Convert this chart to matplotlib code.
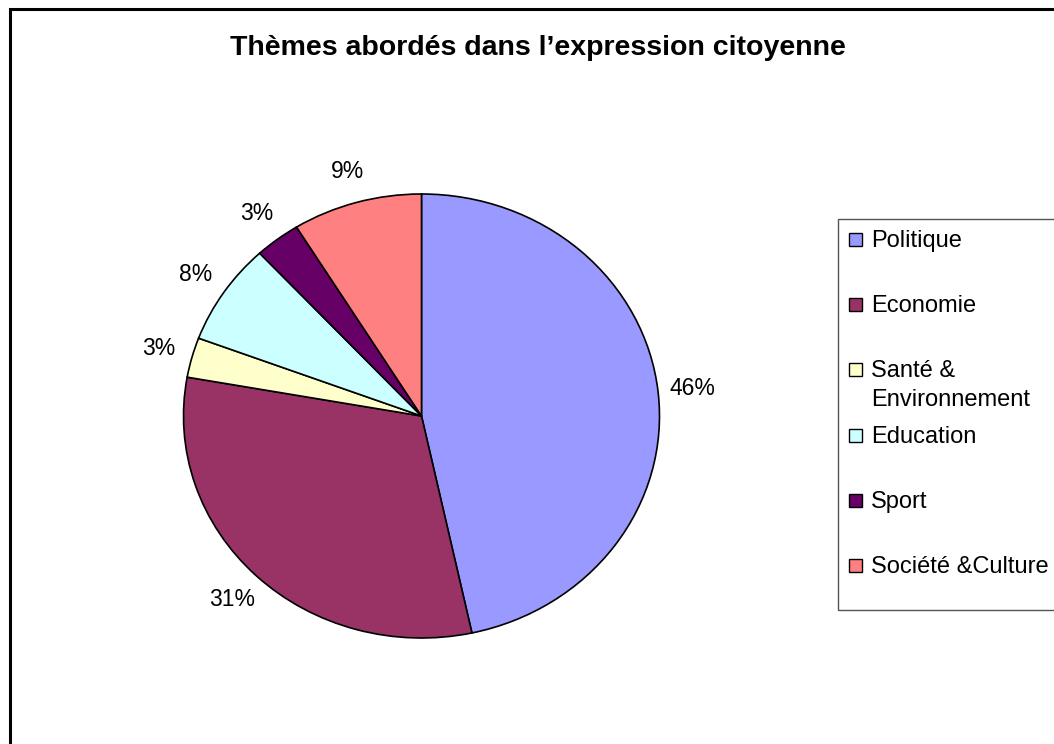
import matplotlib
matplotlib.use("Agg")
import matplotlib.pyplot as plt
from matplotlib.patches import Rectangle

# ---- data ----
categories = ["Politique", "Economie", "Santé &\nEnvironnement", "Education", "Sport", "Société &Culture"]
shares = [46.6, 31.2, 2.9, 7.4, 3.1, 8.8]
pct_labels = ["46%", "31%", "3%", "8%", "3%", "9%"]
colors = ["#9999FF", "#993366", "#FFFFCC", "#CCFFFF", "#660066", "#FF8080"]
title = "Thèmes abordés dans l’expression citoyenne"

W, H = 1054, 744
fig = plt.figure(figsize=(W / 100, H / 100), dpi=100)
plt.rcParams["font.family"] = ["Liberation Sans", "DejaVu Sans"]

def fx(px):
    return px / W

def fy(py):
    return 1 - py / H

# outer frame (extends beyond the right and bottom edges)
fig.add_artist(Rectangle((fx(9.5), fy(770)), fx(1200), 770 / H - 8.5 / H,
                         transform=fig.transFigure, fill=False,
                         edgecolor="black", linewidth=2.2))

# pie axes (elliptical like the original)
cx, cy, rx, ry = 421.5, 416, 238, 222
ax = fig.add_axes([fx(cx - rx), fy(cy + ry), 2 * rx / W, 2 * ry / H])
wedges, texts = ax.pie(shares, colors=colors, startangle=90, counterclock=False,
                       labels=pct_labels, labeldistance=1.145,
                       wedgeprops=dict(edgecolor="black", linewidth=1.2),
                       textprops=dict(fontsize=16.5, color="black"))
for t in texts:
    t.set_ha("center")
    t.set_va("center")
ax.set_aspect("auto")
ax.set_xlim(-1, 1)
ax.set_ylim(-1, 1)
ax.axis("off")

# title
fig.text(fx(538), fy(48), title, ha="center", va="center",
         fontsize=20.5, fontweight="bold")

# legend box
lx, ltop, lbot = 838, 219, 610
fig.add_artist(Rectangle((fx(lx), fy(lbot)), fx(400), (lbot - ltop) / H,
                         transform=fig.transFigure, fill=False,
                         edgecolor="#555555", linewidth=1.0))
base0, step, line_gap = 247, 65.2, 29
for i, (lab, col) in enumerate(zip(categories, colors)):
    yb = base0 + step * i
    fig.add_artist(Rectangle((fx(848.5), fy(yb - 1)), 13 / W, 13 / H,
                             transform=fig.transFigure, facecolor=col,
                             edgecolor="black", linewidth=1.0))
    for k, line in enumerate(lab.split("\n")):
        fig.text(fx(871), fy(yb + k * line_gap), line, ha="left", va="baseline",
                 fontsize=17)

fig.savefig("out.png", dpi=100, facecolor="white")
